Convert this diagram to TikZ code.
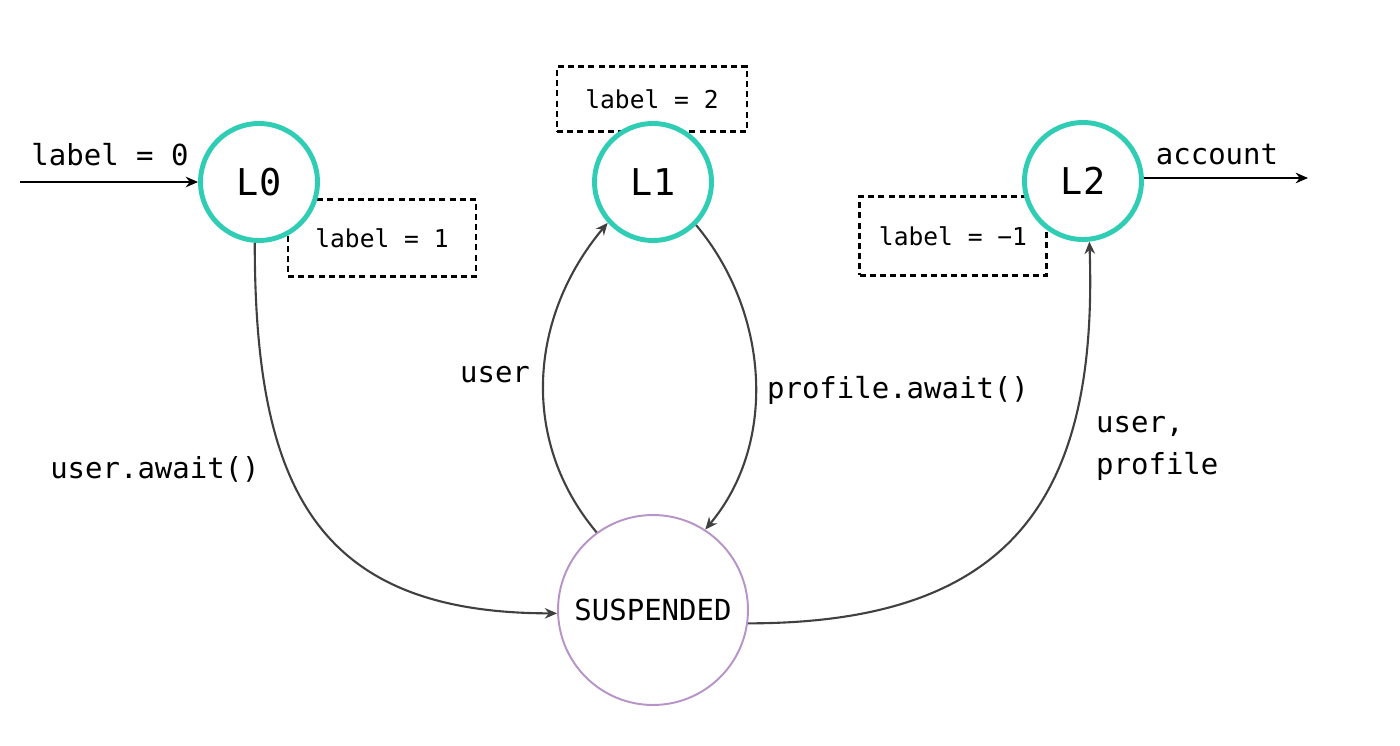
\documentclass[tikz,border=0pt]{standalone}
\usepackage{fontspec}
\setmonofont{DejaVu Sans Mono}
\usetikzlibrary{arrows.meta}
\definecolor{stateteal}{RGB}{46,205,180}
\definecolor{suspendpurple}{RGB}{182,148,200}
\definecolor{edgegray}{RGB}{64,64,64}

\tikzset{
  state/.style={circle,draw=stateteal,line width=2.8pt,fill=white,
    minimum size=2.34cm,inner sep=0pt,font=\ttfamily\fontsize{21}{24}\selectfont},
  waitstate/.style={circle,draw=suspendpurple,line width=1.1pt,fill=white,
    minimum size=3.8cm,inner sep=0pt,font=\ttfamily\fontsize{16.5}{20}\selectfont},
  labelbox/.style={draw=black,line width=1.5pt,dash pattern=on 3.4pt off 2.4pt,
    inner sep=0pt,font=\ttfamily\fontsize{14}{17}\selectfont},
  flow/.style={draw=edgegray,line width=1.2pt,-{Stealth[length=7pt,width=6pt]}},
  io/.style={draw=black,line width=1.2pt,-{Stealth[length=7pt,width=6pt]}},
  txt/.style={font=\ttfamily\fontsize{16.5}{24}\selectfont}
}

\begin{document}
\begin{tikzpicture}[x=0.02cm,y=-0.02cm]
  \useasboundingbox (0,0) rectangle (1400,746);
  % label boxes (behind the states)
  \node[labelbox,minimum width=3.8cm,minimum height=1.3cm] (box2) at (652,99) {label = 2};
  \node[labelbox,minimum width=3.76cm,minimum height=1.54cm] (box1) at (382,238) {label = 1};
  \node[labelbox,minimum width=3.74cm,minimum height=1.58cm] (boxm1) at (953,236) {label = −1};
  % states
  \node[state] (L0) at (259,182) {L0};
  \node[state] (L1) at (653,182) {L1};
  \node[state] (L2) at (1083,181) {L2};
  \node[waitstate] (S) at (653,610) {SUSPENDED};
  % entry and exit
  \coordinate (entry) at (20,182);
  \coordinate (exit) at (1308,178);
  \draw[io] (entry) -- (L0);
  \draw[io] (L2.east |- exit) -- (exit);
  \node[txt] (lbl0) at (110,155) {label = 0};
  \node[txt] (acct) at (1217,155) {account};
  % transitions
  \draw[flow] (L0.-94) to[out=-90,in=180,looseness=1.3] (S.182);
  \draw[flow] (S.126) to[out=130,in=-130] (L1.-138);
  \draw[flow] (L1.-45) to[out=-50,in=50,looseness=0.95] (S.57);
  \draw[flow] (S.-8) to[out=0,in=-88,looseness=1.3] (L2.-84);
  \node[txt] (uawait) at (155,469) {user.await()};
  \node[txt] (usr) at (495,375) {user};
  \node[txt] (pawait) at (898,390) {profile.await()};
  \node[txt,align=left,anchor=west] (usrprof) at (1090,448) {user,\\profile};
\end{tikzpicture}
\end{document}
